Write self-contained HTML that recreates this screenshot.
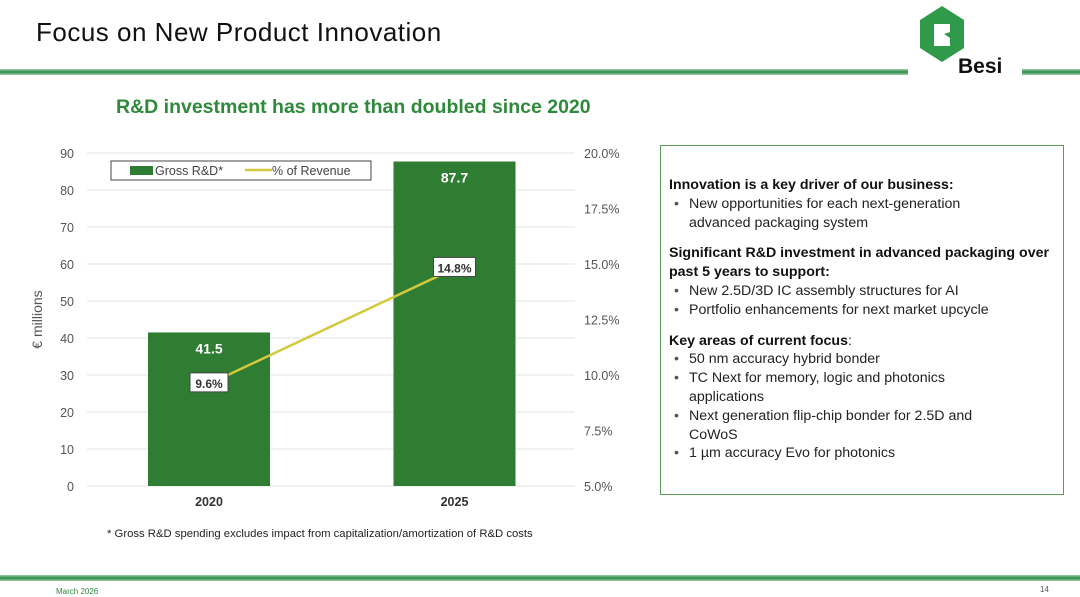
<!DOCTYPE html>
<html><head><meta charset="utf-8"><style>
body{margin:0;width:1080px;height:597px;background:#fff;font-family:"Liberation Sans",sans-serif;position:relative;overflow:hidden}
.abs{position:absolute}
#box{left:660px;top:145px;width:404px;height:350px;border:1px solid #5a9a5a;box-sizing:border-box;padding:30px 8px 0 8px;font-size:14.2px;color:#222;line-height:18.8px}
#box b{color:#111}
#box ul{margin:0 0 12px 0;padding-left:20px}
#box li{list-style:none;position:relative;white-space:nowrap}
#box li:before{content:"•";position:absolute;left:-15px;color:#555}
</style></head><body>
<div class="abs" style="left:36px;top:17px;font-size:26px;color:#111;letter-spacing:0.5px">Focus on New Product Innovation</div>
<div class="abs" style="left:0;top:69px;width:908px;height:6px;background:linear-gradient(#9fd0a8,#2e8a4a 50%,#9fd0a8)"></div>
<div class="abs" style="left:1022px;top:69px;width:58px;height:6px;background:linear-gradient(#9fd0a8,#2e8a4a 50%,#9fd0a8)"></div>
<svg class="abs" style="left:912px;top:4px" width="60" height="60"><polygon points="30,2 52,16 52,44 30,58 8,44 8,16" fill="#2f9a4a"/><polygon points="22,20 38,20 38,28 32,30 38,34 38,42 22,42" fill="#fff"/></svg>
<div class="abs" style="left:958px;top:55px;font-size:21px;font-weight:bold;color:#111">Besi</div>
<div class="abs" style="left:116px;top:96px;font-size:19.5px;font-weight:bold;color:#2e8a3a">R&amp;D investment has more than doubled since 2020</div>
<svg class="abs" id="chart" style="left:0;top:130px" width="650" height="390"></svg>
<div class="abs" style="left:107px;top:528px;font-size:11.3px;color:#222">* Gross R&amp;D spending excludes impact from capitalization/amortization of R&amp;D costs</div>
<div class="abs" id="box">
<b>Innovation is a key driver of our business:</b>
<ul><li>New opportunities for each next-generation<br>advanced packaging system</li></ul>
<b>Significant R&amp;D investment in advanced packaging over past 5 years to support:</b>
<ul><li>New 2.5D/3D IC assembly structures for AI</li><li>Portfolio enhancements for next market upcycle</li></ul>
<b>Key areas of current focus</b>:
<ul><li>50 nm accuracy hybrid bonder</li><li>TC Next for memory, logic and photonics<br>applications</li><li>Next generation flip-chip bonder for 2.5D and<br>CoWoS</li><li>1 µm accuracy Evo for photonics</li></ul>
</div>
<div class="abs" style="left:0;top:575px;width:1080px;height:6px;background:linear-gradient(#9fd0a8,#2e8a4a 50%,#9fd0a8)"></div>
<div class="abs" style="left:56px;top:587px;font-size:8px;color:#2e8a3a">March 2026</div>
<div class="abs" style="left:1040px;top:585px;font-size:8px;color:#555">14</div>
<script>
const categories=["2020","2025"];
const grossRD=[41.5,87.7];
const pctRevenue=[9.6,14.8];
const leftTicks=[0,10,20,30,40,50,60,70,80,90];
const rightTicks=[5,7.5,10,12.5,15,17.5,20];
const svg=document.getElementById('chart');const NS='http://www.w3.org/2000/svg';
const oy=130;
function yL(v){return 486-oy-v*(333/90);}
function yR(v){return 486-oy-(v-5)*(333/15);}
function xC(i){return 209+i*245.5;}
function mk(t,a,txt){const e=document.createElementNS(NS,t);for(const k in a)e.setAttribute(k,a[k]);if(txt!=null)e.textContent=txt;svg.appendChild(e);return e;}
leftTicks.forEach(v=>{const g=mk('line',{x1:87,x2:575,y1:yL(v),y2:yL(v),stroke:'#e3e3e3'});


const t=mk('text',{x:74,y:yL(v)+5,'text-anchor':'end','font-size':12.5,fill:'#555'},v);

});
rightTicks.forEach(v=>{const t=mk('text',{x:584,y:yR(v)+5,'font-size':12.5,fill:'#555'},v.toFixed(1)+'%');

});
const yt=mk('text',{x:42,y:yL(45),'font-size':14,fill:'#555','text-anchor':'middle',transform:`rotate(-90 42 ${yL(45)})`},'€ millions');


categories.forEach((c,i)=>{
const b=mk('rect',{x:xC(i)-61,y:yL(grossRD[i]),width:122,height:yL(0)-yL(grossRD[i]),fill:'#2e7d32'});


const l=mk('text',{x:xC(i),y:yL(grossRD[i])+21,'text-anchor':'middle','font-size':14,'font-weight':'bold',fill:'#fff'},grossRD[i].toFixed(1));


const x=mk('text',{x:xC(i),y:376,'text-anchor':'middle','font-size':12.5,'font-weight':'bold',fill:'#333'},c);


});
const pl=mk('polyline',{points:pctRevenue.map((v,i)=>xC(i)+','+yR(v)).join(' '),fill:'none',stroke:'#d4c83c','stroke-width':2.5});


pctRevenue.forEach((v,i)=>{const w=i?42:38;
const r=mk('rect',{x:xC(i)-w/2,y:yR(v)-11,width:w,height:19,fill:'#fff',stroke:'#444'});


const t=mk('text',{x:xC(i),y:yR(v)+4,'text-anchor':'middle','font-size':12,'font-weight':'bold',fill:'#333'},v.toFixed(1)+'%');

});
const lg=mk('rect',{x:111,y:161-oy,width:260,height:19,fill:'#fff',stroke:'#444'});


const ls=mk('rect',{x:130,y:166-oy,width:23,height:9,fill:'#2e7d32'});


const lt=mk('text',{x:155,y:175-oy,'font-size':12.5,fill:'#444'},'Gross R&D*');


const ll=mk('line',{x1:245,x2:272,y1:170-oy,y2:170-oy,stroke:'#d4c83c','stroke-width':2.5});


const lt2=mk('text',{x:272,y:175-oy,'font-size':12.5,fill:'#444'},'% of Revenue');


</script>
</body></html>
